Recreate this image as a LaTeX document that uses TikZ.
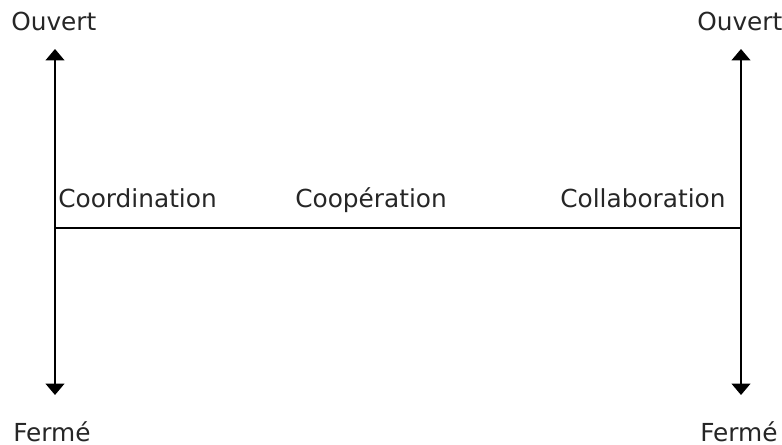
\documentclass[tikz,border=0pt]{standalone}
\usepackage{fontspec}
\setmainfont{DejaVu Sans}
\usetikzlibrary{arrows.meta}
\begin{document}
\begin{tikzpicture}[x=0.75pt,y=-0.75pt,
  lbl/.style={anchor=base west,inner sep=0pt,font=\fontsize{18.6pt}{21pt}\selectfont,text=black!85},
  axis/.style={line width=1.3pt,{Triangle[width=14pt,length=8.5pt]}-{Triangle[width=14pt,length=8.5pt]}},
  bar/.style={line width=1.3pt}]
\useasboundingbox (0,0) rectangle (782,445);
\coordinate (lt) at (55,49);
\coordinate (lb) at (55,395);
\coordinate (rt) at (741,49);
\coordinate (rb) at (741,395);
\coordinate (lm) at (55,228);
\coordinate (rm) at (741,228);
\draw[axis] (lt) -- (lb);
\draw[axis] (rt) -- (rb);
\draw[bar] (lm) -- (rm);
\node[lbl] (ouvl) at (11,31) {Ouvert};
\node[lbl] (ouvr) at (697,31) {Ouvert};
\node[lbl] (ferl) at (13,441) {Fermé};
\node[lbl] (ferr) at (700,441) {Fermé};
\node[lbl] (coord) at (58,208) {Coordination};
\node[lbl] (coop) at (295,208) {Coopération};
\node[lbl] (colla) at (560,208) {Collaboration};
\end{tikzpicture}
\end{document}
